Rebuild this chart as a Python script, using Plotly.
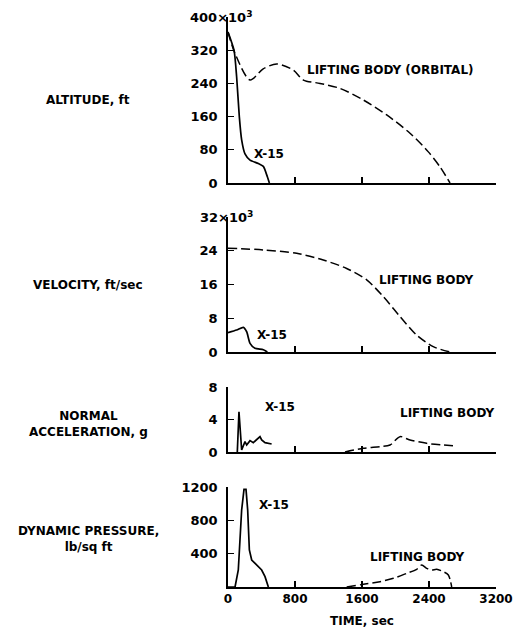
import plotly.graph_objects as go

# ---- Data (time in sec) ----
alt_lb_t = [0, 84, 263, 420, 581, 780, 900, 1099, 1337, 1616, 1895, 2173, 2392, 2531, 2651]
alt_lb_v = [364, 312, 248, 275, 287, 272, 248, 240, 228, 200, 164, 120, 75, 39, 0]
alt_x15_t = [0, 72, 103, 135, 163, 203, 263, 362, 422, 470, 494]
alt_x15_v = [364, 320, 256, 160, 104, 70, 55, 47, 40, 15, 0]

vel_lb_t = [0, 422, 820, 1138, 1417, 1656, 1855, 2054, 2253, 2451, 2651]
vel_lb_v = [24.6, 24.2, 23.4, 21.8, 19.8, 17.1, 13.1, 8.4, 4.0, 1.26, 0]
vel_x15_t = [0, 103, 183, 223, 263, 322, 422, 470]
vel_x15_v = [4.6, 5.2, 5.85, 4.8, 2.05, 0.87, 0.55, 0]

acc_x15_t = [111, 131, 163, 203, 223, 263, 302, 342, 382, 402, 442, 521]
acc_x15_v = [0, 4.96, 0.25, 1.27, 0.86, 1.4, 1.15, 1.48, 1.9, 1.48, 1.15, 0.98]
acc_lb_t = [1397, 1616, 1815, 1935, 2054, 2173, 2372, 2571, 2710]
acc_lb_v = [0, 0.45, 0.66, 0.86, 1.89, 1.48, 1.07, 0.86, 0.74]

q_x15_t = [0, 84, 123, 163, 191, 215, 235, 255, 283, 342, 402, 442, 482]
q_x15_v = [0, 0, 204, 924, 1172, 1172, 924, 444, 324, 264, 204, 124, 0]
q_lb_t = [1417, 1616, 1815, 1975, 2134, 2253, 2313, 2372, 2432, 2492, 2571, 2631, 2671]
q_lb_v = [0, 32, 64, 104, 164, 212, 264, 224, 204, 212, 184, 144, 0]

x_ticks = [0, 800, 1600, 2400, 3200]
alt_ticks = [0, 80, 160, 240, 320]
vel_ticks = [0, 8, 16, 24]
acc_ticks = [0, 4, 8]
q_ticks = [400, 800, 1200]

W, H = 518, 633
FONT = "DejaVu Sans"

def fy(px):
    return (H - px) / H

fig = go.Figure()
solid = dict(color="black", width=1.7)
solid_smooth = dict(color="black", width=1.7, shape="spline", smoothing=0.6)
dashed = dict(color="black", width=1.5, dash="9px,4px", shape="spline", smoothing=0.8)

panels = [
    ("", alt_x15_t, alt_x15_v, alt_lb_t, alt_lb_v, solid_smooth),
    ("2", vel_x15_t, vel_x15_v, vel_lb_t, vel_lb_v, solid_smooth),
    ("3", acc_x15_t, acc_x15_v, acc_lb_t, acc_lb_v, solid),
    ("4", q_x15_t, q_x15_v, q_lb_t, q_lb_v, solid),
]
for suf, xt, xv, lt, lv, sl in panels:
    fig.add_trace(go.Scatter(x=xt, y=xv, mode="lines", line=sl,
                             xaxis="x" + suf, yaxis="y" + suf, showlegend=False))
    fig.add_trace(go.Scatter(x=lt, y=lv, mode="lines", line=dashed,
                             xaxis="x" + suf, yaxis="y" + suf, showlegend=False))

xdom = [228 / W, 496 / W]
ydoms = [
    [fy(183), fy(17)],
    [fy(352), fy(217)],
    [fy(452), fy(387)],
    [fy(587), fy(487)],
]
yranges = [[0, 400], [0, 32], [0, 8], [0, 1200]]
ytickvals = [alt_ticks, vel_ticks, acc_ticks, q_ticks]

tickfont = dict(family=FONT, size=13, color="black", weight="bold")
xtickfont = dict(family=FONT, size=12, color="black", weight="bold")
layout = dict(
    width=W, height=H,
    margin=dict(l=0, r=0, t=0, b=0),
    paper_bgcolor="white", plot_bgcolor="white",
    showlegend=False,
)
for i, suf in enumerate(["", "2", "3", "4"]):
    xa = dict(domain=xdom, range=[0, 3200], anchor="y" + suf,
              showgrid=False, zeroline=False, showline=True, linecolor="black", linewidth=1.5,
              ticks="inside", ticklen=6, tickwidth=1.5, tickcolor="black",
              tickvals=x_ticks, tickfont=xtickfont, automargin=False)
    if i < 3:
        xa["showticklabels"] = False
    else:
        xa["ticktext"] = [str(v) for v in x_ticks]
        xa["title"] = dict(text="TIME, sec",
                           font=dict(family=FONT, size=12, color="black", weight="bold"),
                           standoff=11)
    ya = dict(domain=ydoms[i], range=yranges[i], anchor="x" + suf,
              showgrid=False, zeroline=False, showline=True, linecolor="black", linewidth=1.5,
              ticks="inside", ticklen=6, tickwidth=1.2, tickcolor="black",
              tickvals=ytickvals[i], ticktext=[str(v) for v in ytickvals[i]],
              tickfont=tickfont, ticklabelstandoff=6, automargin=False)
    layout["xaxis" + suf] = xa
    layout["yaxis" + suf] = ya
fig.update_layout(**layout)

lab = dict(family=FONT, size=12, color="black", weight="bold")
ann = []
# Axis-top labels
ann.append(dict(text="400×10<sup>3</sup>", x=188 / W, y=fy(17), xref="paper", yref="paper",
                xanchor="left", yanchor="middle", showarrow=False, font=tickfont))
ann.append(dict(text="32×10<sup>3</sup>", x=198 / W, y=fy(217), xref="paper", yref="paper",
                xanchor="left", yanchor="middle", showarrow=False, font=tickfont))
# Left quantity labels
for txt, ypx in [("ALTITUDE, ft", 100), ("VELOCITY, ft/sec", 285),
                 ("NORMAL<br>ACCELERATION, g", 424), ("DYNAMIC PRESSURE,<br>lb/sq ft", 539)]:
    ann.append(dict(text=txt, x=88 / W, y=fy(ypx), xref="paper", yref="paper",
                    xanchor="center", yanchor="middle", showarrow=False, font=lab))
# Curve labels
curve_labels = [
    ("X-15", 287, 70, ""), ("LIFTING BODY (ORBITAL)", 919, 272, ""),
    ("X-15", 322, 4.0, "2"), ("LIFTING BODY", 1779, 17.1, "2"),
    ("X-15", 418, 5.5, "3"), ("LIFTING BODY", 2030, 4.8, "3"),
    ("X-15", 346, 984, "4"), ("LIFTING BODY", 1672, 360, "4"),
]
for txt, x, y, suf in curve_labels:
    ann.append(dict(text=txt, x=x, y=y, xref="x" + suf, yref="y" + suf,
                    xanchor="left", yanchor="middle", showarrow=False, font=lab))
fig.update_layout(annotations=ann)

fig.write_html("out.html", config={"displayModeBar": False},
               post_script="document.body.style.margin='0';")
